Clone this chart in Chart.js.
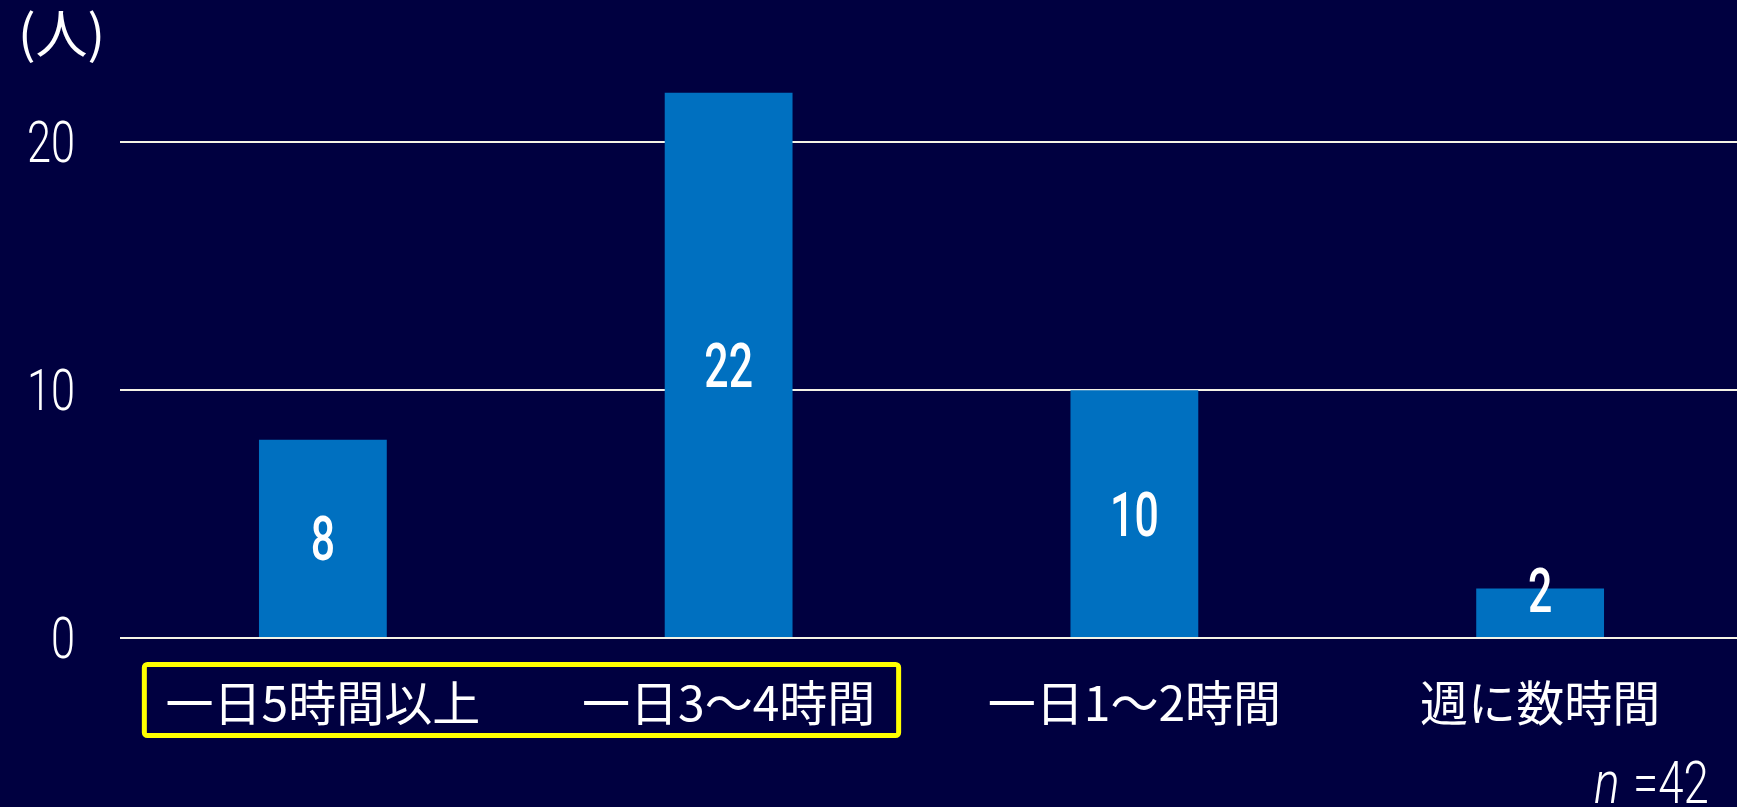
<!DOCTYPE html>
<html>
<head>
<meta charset="utf-8">
<script src="https://cdn.jsdelivr.net/npm/chart.js@4.4.1/dist/chart.umd.min.js"></script>
<style>
  html, body { margin: 0; padding: 0; background: #000040; overflow: hidden; }
  #wrap { position: absolute; left: 0; top: 0; width: 1743px; height: 807px; }
</style>
</head>
<body>
<div id="wrap"><canvas id="c" width="1743" height="807"></canvas></div>
<script>
const categories = ['一日5時間以上', '一日3〜4時間', '一日1〜2時間', '週に数時間'];
const values = [8, 22, 10, 2];
const yTicks = [0, 10, 20];
const unitLabel = '(人)';
const sampleN = 'n';
const sampleLabel = '=42';

const NUM_FONT = "Roboto, 'Liberation Sans', sans-serif";
const JP_FONT = "'Noto Sans CJK JP', 'Noto Sans', sans-serif";

function narrowText(ctx, text, x, y, sx) {
  ctx.save();
  ctx.translate(x, y);
  ctx.scale(sx, 1);
  ctx.fillText(text, 0, 0);
  ctx.restore();
}

const bgPlugin = {
  id: 'bg',
  beforeDraw(chart) {
    const ctx = chart.ctx;
    ctx.save();
    ctx.fillStyle = '#000040';
    ctx.fillRect(0, 0, chart.width, chart.height);
    ctx.restore();
  }
};

const textPlugin = {
  id: 'texts',
  afterDraw(chart) {
    const ctx = chart.ctx;
    const xs = chart.scales.x;
    const ys = chart.scales.y;
    const area = chart.chartArea;
    ctx.save();
    ctx.fillStyle = '#ffffff';
    // y tick labels (from the library's y scale)
    ctx.font = "300 57px " + NUM_FONT;
    ctx.textAlign = 'right';
    ctx.textBaseline = 'alphabetic';
    ys.ticks.forEach(t => {
      const y = ys.getPixelForValue(t.value);
      narrowText(ctx, String(t.value), 75, y + 20, 0.76);
    });
    // data labels
    const meta = chart.getDatasetMeta(0);
    ctx.font = "500 62px " + NUM_FONT;
    ctx.textAlign = 'center';
    meta.data.forEach((bar, i) => {
      const h = bar.base - bar.y;
      const cy = h < 70 ? bar.y + 2 : (bar.y + bar.base) / 2;
      narrowText(ctx, String(values[i]), bar.x, cy + 22, 0.69);
    });
    // unit label
    ctx.font = "52px " + JP_FONT;
    ctx.textAlign = 'left';
    ctx.textBaseline = 'middle';
    ctx.fillText(unitLabel, 18, 33);
    // sample size
    ctx.textAlign = 'left';
    ctx.textBaseline = 'alphabetic';
    ctx.font = "italic 300 60px " + NUM_FONT;
    narrowText(ctx, sampleN, 1594, 803, 0.8);
    ctx.font = "300 60px " + NUM_FONT;
    narrowText(ctx, sampleLabel, 1633, 803, 0.76);
    // highlight box around first two categories
    const cw = xs.getPixelForValue(1) - xs.getPixelForValue(0);
    const left = xs.getPixelForValue(0) - cw * 0.44;
    const right = xs.getPixelForValue(1) + cw * 0.419;
    const top = area.bottom + 26.5;
    const bottom = area.bottom + 97.5;
    ctx.strokeStyle = '#FFFF00';
    ctx.lineWidth = 5;
    ctx.lineJoin = 'round';
    ctx.beginPath();
    if (ctx.roundRect) ctx.roundRect(left, top, right - left, bottom - top, 3);
    else ctx.rect(left, top, right - left, bottom - top);
    ctx.stroke();
    ctx.restore();
  }
};

new Chart(document.getElementById('c'), {
  type: 'bar',
  data: {
    labels: categories,
    datasets: [{
      data: values,
      backgroundColor: '#0070C0',
      borderWidth: 0,
      barPercentage: 0.315,
      categoryPercentage: 1.0
    }]
  },
  options: {
    responsive: false,
    animation: false,
    devicePixelRatio: 1,
    layout: { padding: { top: 68, right: 0, bottom: 0, left: 0 } },
    plugins: { legend: { display: false }, tooltip: { enabled: false } },
    scales: {
      x: {
        grid: { display: false },
        border: { display: false },
        ticks: {
          color: '#ffffff',
          font: { family: JP_FONT, size: 48 },
          padding: 28,
          maxRotation: 0,
          autoSkip: false
        },
        afterFit(scale) { scale.height = 169; }
      },
      y: {
        min: 0,
        max: 23,
        afterBuildTicks(scale) { scale.ticks = yTicks.map(v => ({ value: v })); },
        afterFit(scale) { scale.width = 120; },
        grid: { color: '#F5F3E6', lineWidth: 2, drawTicks: false },
        border: { display: false },
        ticks: { display: false }
      }
    }
  },
  plugins: [bgPlugin, textPlugin]
});
</script>
</body>
</html>
